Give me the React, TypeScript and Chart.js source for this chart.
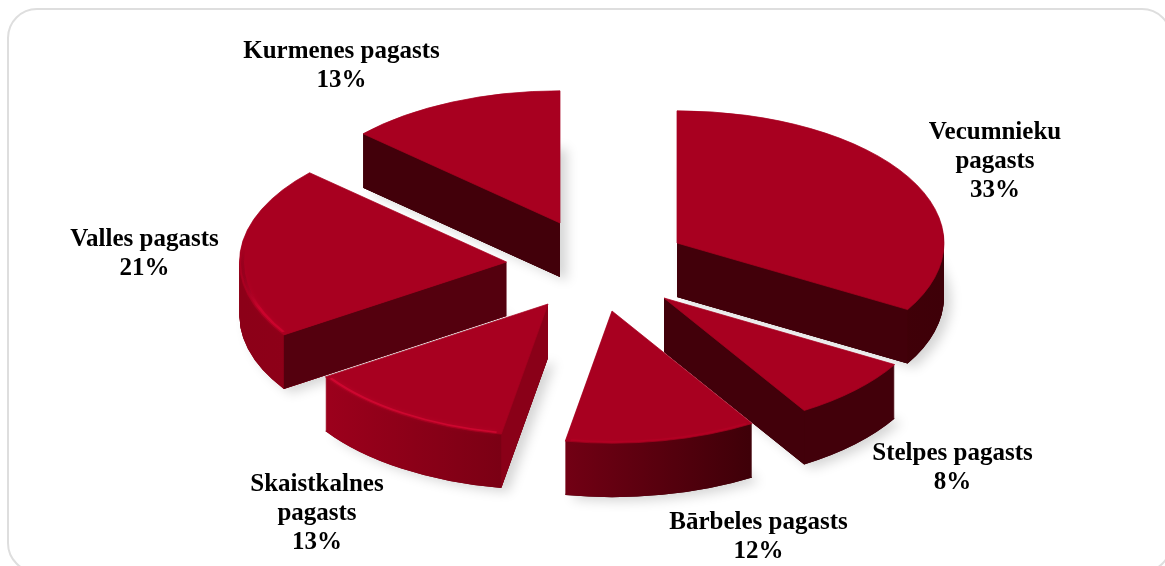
import React, { useEffect, useRef } from "react";
import { Chart, registerables } from "chart.js";

Chart.register(...registerables);

const categories: string[][] = [
  ["Vecumnieku", "pagasts"],
  ["Stelpes pagasts"],
  ["Bārbeles pagasts"],
  ["Skaistkalnes", "pagasts"],
  ["Valles pagasts"],
  ["Kurmenes pagasts"],
];
// The labels show them rounded
const shares = [33.4, 7.8, 11.6, 12.9, 21.1, 13.2];

// Look and layout, slice by slice (same order as the data)
const sliceShift = [[94.5, -40], [81.5, 15], [29.5, 28], [-34.5, 21], [-76, -21], [-22.5, -60]];
const wallColors = ["#42000a", "#42000a", "#42000a", "#8a0018", "#54000e", "#42000a"];
const rimColors = [
  ["#4a000a", "#3e0008"],
  ["#42000a", "#42000a"],
  ["#720014", "#3e0008"],
  ["#9c001c", "#720012"],
  ["#8c0018", "#940019"],
  ["#42000a", "#42000a"],
];
const rimShine = ["rgba(0,0,0,0)", "rgba(0,0,0,0)", "rgba(200,0,42,0.3)", "rgba(225,10,55,0.6)", "rgba(220,5,50,0.6)", "rgba(0,0,0,0)"];
const labelAnchors = [[995, 139], [952.5, 460], [758.5, 529], [317, 491], [144.5, 246], [341.5, 58]];
const paintOrder = [5, 0, 4, 1, 3, 2];

const topColor = "#a80020";
const squash = 0.495;
const depth = 54;
const pieRadius = 267;
const labelFont = "bold 25px 'Liberation Serif'";
const lineStep = 29;

const pie3d = {
  id: "pie3d",
  beforeDatasetsDraw(chart: any) {
    const ctx: CanvasRenderingContext2D = chart.ctx;
    const arcs = chart.getDatasetMeta(0).data;

    const place = (arc: any, i: number, drop: number) => {
      const [sx, sy] = sliceShift[i];
      ctx.translate(arc.x + sx, arc.y + sy + drop);
      ctx.scale(1, squash);
      ctx.translate(-arc.x, -arc.y);
    };
    const paint = (arc: any, fill: any, edge = 0) => {
      const kept = arc.options;
      arc.options = { ...kept, backgroundColor: fill, borderColor: fill, borderWidth: edge };
      arc.draw(ctx);
      arc.options = kept;
    };

    for (const i of paintOrder) {
      const arc = arcs[i];
      const R = arc.outerRadius;
      const [sx, sy] = sliceShift[i];
      const ax = arc.x + sx;
      const ay = arc.y + sy;
      const start = arc.startAngle;
      const end = arc.endAngle;

      // horizontal extent of the slice, for the rim gradient
      const xs = [0, Math.cos(start) * R, Math.cos(end) * R];
      for (const q of [-Math.PI * 2, -Math.PI, 0, Math.PI, Math.PI * 2]) {
        if (q > start && q < end) xs.push(R * Math.cos(q));
      }
      const rim = ctx.createLinearGradient(arc.x + Math.min(...xs), 0, arc.x + Math.max(...xs), 0);
      rim.addColorStop(0, rimColors[i][0]);
      rim.addColorStop(1, rimColors[i][1]);

      // soft cast shadow below the block
      ctx.save();
      ctx.shadowColor = "rgba(0,0,0,0.17)";
      ctx.shadowBlur = 12;
      ctx.shadowOffsetX = 7;
      ctx.shadowOffsetY = 4;
      place(arc, i, depth);
      paint(arc, rimColors[i][1]);
      ctx.restore();

      // extruded rim
      for (let d = depth; d >= 1; d--) {
        ctx.save();
        place(arc, i, d);
        paint(arc, rim);
        ctx.restore();
      }

      // cut faces that look towards the viewer
      const edges: [number, boolean][] = [[start, Math.cos(start) < -1e-6], [end, Math.cos(end) > 1e-6]];
      for (const [angle, seen] of edges) {
        if (!seen) continue;
        const ex = ax + R * Math.cos(angle);
        const ey = ay + R * Math.sin(angle) * squash;
        ctx.beginPath();
        ctx.moveTo(ax, ay);
        ctx.lineTo(ex, ey);
        ctx.lineTo(ex, ey + depth);
        ctx.lineTo(ax, ay + depth);
        ctx.closePath();
        ctx.fillStyle = wallColors[i];
        ctx.fill();
      }

      // top face with a soft shine along the lit part of its edge
      ctx.save();
      place(arc, i, 0);
      paint(arc, topColor, 1);
      const shine = ctx.createLinearGradient(0, arc.y - 0.1 * R, 0, arc.y + 0.35 * R);
      shine.addColorStop(0, "rgba(0,0,0,0)");
      shine.addColorStop(1, rimShine[i]);
      ctx.beginPath();
      ctx.arc(arc.x, arc.y, R - 3, start + 0.02, end - 0.02);
      ctx.strokeStyle = shine;
      ctx.lineWidth = 3;
      ctx.shadowColor = rimShine[i];
      ctx.shadowBlur = 4;
      ctx.stroke();
      ctx.restore();
    }
    return false;
  },
  afterDraw(chart: any) {
    const ctx: CanvasRenderingContext2D = chart.ctx;
    ctx.save();
    ctx.font = labelFont;
    ctx.fillStyle = "#000000";
    ctx.textAlign = "center";
    ctx.textBaseline = "alphabetic";
    categories.forEach((name, i) => {
      const [x, y] = labelAnchors[i];
      [...name, `${Math.round(shares[i])}%`].forEach((line, n) => ctx.fillText(line, x, y + n * lineStep));
    });
    ctx.restore();
  },
};

export default function App() {
  const ref = useRef<HTMLCanvasElement>(null);
  useEffect(() => {
    const chart = new Chart(ref.current as HTMLCanvasElement, {
      type: "pie",
      data: {
        labels: categories.map((c) => c.join(" ")),
        datasets: [{ data: shares, backgroundColor: topColor, borderWidth: 0, radius: pieRadius }],
      },
      options: {
        animation: false,
        responsive: false,
        devicePixelRatio: 1,
        layout: { padding: 0 },
        plugins: { legend: { display: false }, tooltip: { enabled: false } },
      },
      plugins: [pie3d],
    } as any);
    return () => chart.destroy();
  }, []);
  return (
    <div style={{ position: "fixed", left: 0, top: 0, width: 1165, height: 566, overflow: "hidden", background: "#fff" }}>
      <div
        style={{
          position: "absolute",
          left: 7,
          top: 8,
          width: 1165,
          height: 565,
          border: "2px solid #dedede",
          borderRadius: 30,
          boxSizing: "border-box",
        }}
      />
      <canvas ref={ref} width={1165} height={566} style={{ position: "absolute", left: 0, top: 0, display: "block" }} />
    </div>
  );
}
